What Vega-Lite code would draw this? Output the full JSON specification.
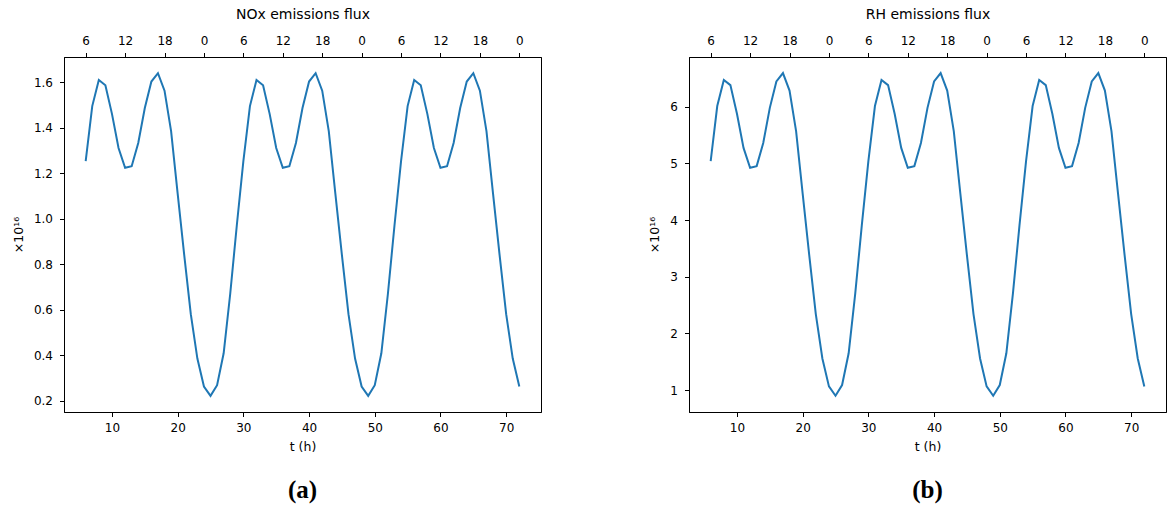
{
  "$schema": "https://vega.github.io/schema/vega-lite/v6.json",
  "padding": {"left": 11, "top": 7, "right": 5, "bottom": 0},
  "config": {
    "font": "DejaVu Sans",
    "view": {"stroke": "#000", "strokeWidth": 1},
    "axis": {"grid": false, "domainColor": "#000", "tickColor": "#000", "labelColor": "#000", "titleColor": "#000", "labelFontSize": 12, "titleFontSize": 12.5, "titleFontWeight": "normal", "tickSize": 4.5, "labelPadding": 4, "labelFont": "DejaVu Sans", "titleFont": "DejaVu Sans"},
    "title": {"font": "Liberation Serif", "fontSize": 25, "fontWeight": "bold", "orient": "bottom", "anchor": "middle", "offset": 25, "color": "#000"}
  },
  "data": {"values": [
    {"t": 6, "nox": 1.253, "rh": 5.040}, {"t": 7, "nox": 1.495, "rh": 6.010}, {"t": 8, "nox": 1.610, "rh": 6.471}, {"t": 9, "nox": 1.587, "rh": 6.379},
    {"t": 10, "nox": 1.461, "rh": 5.874}, {"t": 11, "nox": 1.311, "rh": 5.272}, {"t": 12, "nox": 1.224, "rh": 4.923}, {"t": 13, "nox": 1.231, "rh": 4.951},
    {"t": 14, "nox": 1.333, "rh": 5.360}, {"t": 15, "nox": 1.487, "rh": 5.978}, {"t": 16, "nox": 1.603, "rh": 6.443}, {"t": 17, "nox": 1.640, "rh": 6.591},
    {"t": 18, "nox": 1.563, "rh": 6.283}, {"t": 19, "nox": 1.385, "rh": 5.569}, {"t": 20, "nox": 1.110, "rh": 4.466}, {"t": 21, "nox": 0.840, "rh": 3.383},
    {"t": 22, "nox": 0.580, "rh": 2.341}, {"t": 23, "nox": 0.385, "rh": 1.559}, {"t": 24, "nox": 0.262, "rh": 1.066}, {"t": 25, "nox": 0.221, "rh": 0.901},
    {"t": 26, "nox": 0.268, "rh": 1.090}, {"t": 27, "nox": 0.408, "rh": 1.651}, {"t": 28, "nox": 0.670, "rh": 2.702}, {"t": 29, "nox": 0.970, "rh": 3.905},
    {"t": 30, "nox": 1.253, "rh": 5.040}, {"t": 31, "nox": 1.495, "rh": 6.010}, {"t": 32, "nox": 1.610, "rh": 6.471}, {"t": 33, "nox": 1.587, "rh": 6.379},
    {"t": 34, "nox": 1.461, "rh": 5.874}, {"t": 35, "nox": 1.311, "rh": 5.272}, {"t": 36, "nox": 1.224, "rh": 4.923}, {"t": 37, "nox": 1.231, "rh": 4.951},
    {"t": 38, "nox": 1.333, "rh": 5.360}, {"t": 39, "nox": 1.487, "rh": 5.978}, {"t": 40, "nox": 1.603, "rh": 6.443}, {"t": 41, "nox": 1.640, "rh": 6.591},
    {"t": 42, "nox": 1.563, "rh": 6.283}, {"t": 43, "nox": 1.385, "rh": 5.569}, {"t": 44, "nox": 1.110, "rh": 4.466}, {"t": 45, "nox": 0.840, "rh": 3.383},
    {"t": 46, "nox": 0.580, "rh": 2.341}, {"t": 47, "nox": 0.385, "rh": 1.559}, {"t": 48, "nox": 0.262, "rh": 1.066}, {"t": 49, "nox": 0.221, "rh": 0.901},
    {"t": 50, "nox": 0.268, "rh": 1.090}, {"t": 51, "nox": 0.408, "rh": 1.651}, {"t": 52, "nox": 0.670, "rh": 2.702}, {"t": 53, "nox": 0.970, "rh": 3.905},
    {"t": 54, "nox": 1.253, "rh": 5.040}, {"t": 55, "nox": 1.495, "rh": 6.010}, {"t": 56, "nox": 1.610, "rh": 6.471}, {"t": 57, "nox": 1.587, "rh": 6.379},
    {"t": 58, "nox": 1.461, "rh": 5.874}, {"t": 59, "nox": 1.311, "rh": 5.272}, {"t": 60, "nox": 1.224, "rh": 4.923}, {"t": 61, "nox": 1.231, "rh": 4.951},
    {"t": 62, "nox": 1.333, "rh": 5.360}, {"t": 63, "nox": 1.487, "rh": 5.978}, {"t": 64, "nox": 1.603, "rh": 6.443}, {"t": 65, "nox": 1.640, "rh": 6.591},
    {"t": 66, "nox": 1.563, "rh": 6.283}, {"t": 67, "nox": 1.385, "rh": 5.569}, {"t": 68, "nox": 1.110, "rh": 4.466}, {"t": 69, "nox": 0.840, "rh": 3.383},
    {"t": 70, "nox": 0.580, "rh": 2.341}, {"t": 71, "nox": 0.385, "rh": 1.559}, {"t": 72, "nox": 0.262, "rh": 1.066}
  ]},
  "bounds": "flush",
  "spacing": 148,
  "hconcat": [
    {
      "width": 477, "height": 355,
      "title": {"text": "(a)"},
      "layer": [
        {
          "mark": {"type": "line", "color": "#1f77b4", "strokeWidth": 2},
          "encoding": {
            "x": {"field": "t", "type": "quantitative", "scale": {"domain": [2.7, 75.3], "nice": false, "zero": false},
                  "axis": {"orient": "bottom", "values": [10, 20, 30, 40, 50, 60, 70], "title": "t (h)", "labelPadding": 6, "titlePadding": 7}},
            "y": {"field": "nox", "type": "quantitative", "scale": {"domain": [0.15, 1.711], "nice": false, "zero": false},
                  "axis": {"values": [0.2, 0.4, 0.6, 0.8, 1.0, 1.2, 1.4, 1.6], "format": ".1f", "title": "×10¹⁶", "labelPadding": 7, "titlePadding": 8}}
          }
        },
        {
          "mark": {"type": "rule", "opacity": 0},
          "encoding": {
            "x": {"field": "t", "type": "quantitative",
                  "axis": {"orient": "top", "values": [6, 12, 18, 24, 30, 36, 42, 48, 54, 60, 66, 72], "labelExpr": "datum.value % 24", "title": "NOx emissions flux", "titleFontSize": 14, "labelPadding": 5, "titlePadding": 13}}
          }
        }
      ],
      "resolve": {"axis": {"x": "independent"}}
    },
    {
      "width": 477, "height": 355,
      "title": {"text": "(b)"},
      "layer": [
        {
          "mark": {"type": "line", "color": "#1f77b4", "strokeWidth": 2},
          "encoding": {
            "x": {"field": "t", "type": "quantitative", "scale": {"domain": [2.7, 75.3], "nice": false, "zero": false},
                  "axis": {"orient": "bottom", "values": [10, 20, 30, 40, 50, 60, 70], "title": "t (h)", "labelPadding": 6, "titlePadding": 7}},
            "y": {"field": "rh", "type": "quantitative", "scale": {"domain": [0.615, 6.875], "nice": false, "zero": false},
                  "axis": {"values": [1, 2, 3, 4, 5, 6], "format": "d", "title": "×10¹⁶", "labelPadding": 7, "titlePadding": 8}}
          }
        },
        {
          "mark": {"type": "rule", "opacity": 0},
          "encoding": {
            "x": {"field": "t", "type": "quantitative",
                  "axis": {"orient": "top", "values": [6, 12, 18, 24, 30, 36, 42, 48, 54, 60, 66, 72], "labelExpr": "datum.value % 24", "title": "RH emissions flux", "titleFontSize": 14, "labelPadding": 5, "titlePadding": 13}}
          }
        }
      ],
      "resolve": {"axis": {"x": "independent"}}
    }
  ]
}
